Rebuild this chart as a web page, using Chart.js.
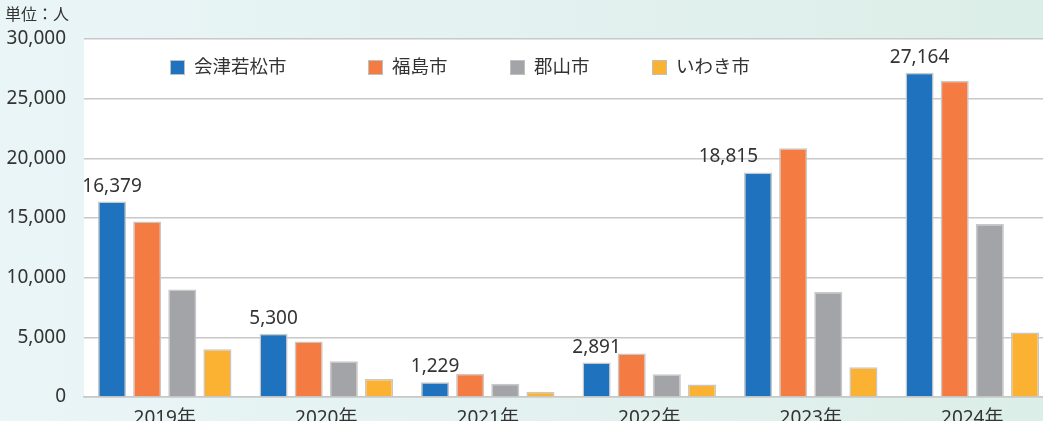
<!DOCTYPE html>
<html>
<head>
<meta charset="utf-8">
<script src="https://cdn.jsdelivr.net/npm/chart.js@4"></script>
<style>
    html, body { margin: 0; padding: 0; overflow: hidden; }
    body {
        width: 1043px; height: 421px;
        background: linear-gradient(to right, #eaf5f7, #dceee8);
    }
    #wrap { width: 1053px; height: 421px; position: relative; }
</style>
</head>
<body>
<div id="wrap"><canvas id="chart"></canvas></div>
<script>
const years = ['2019年', '2020年', '2021年', '2022年', '2023年', '2024年'];
const aizuwakamatsu = [16379, 5300, 1229, 2891, 18815, 27164];
const fukushima = [14700, 4650, 1950, 3650, 20850, 26500];
const koriyama = [9000, 3000, 1100, 1900, 8800, 14500];
const iwaki = [4000, 1500, 450, 1050, 2500, 5400];

const FONT = '"Noto Sans", "Noto Sans CJK JP", sans-serif';
const TEXT = '#333333';

function series(label, data, color) {
    return {
        label: label,
        data: data,
        backgroundColor: color,
        borderColor: '#c8c8c8',
        borderWidth: 1.5,
        categoryPercentage: 0.87,
        barPercentage: 0.8
    };
}

// white plot area, unit label, legend
const decorPlugin = {
    id: 'decor',
    beforeDraw: function (chart) {
        const ctx = chart.ctx;
        const a = chart.chartArea;
        ctx.save();
        ctx.fillStyle = '#ffffff';
        ctx.fillRect(a.left, a.top, a.right - a.left, a.bottom - a.top);
        ctx.restore();
    },
    afterDraw: function (chart) {
        const ctx = chart.ctx;
        ctx.save();
        ctx.fillStyle = TEXT;
        ctx.font = '16px ' + FONT;
        ctx.textBaseline = 'middle';
        ctx.fillText('単位：人', 5, 15);

        const legendX = [170, 368, 510, 652];
        ctx.font = '18.5px ' + FONT;
        chart.data.datasets.forEach(function (ds, i) {
            const x = legendX[i];
            ctx.fillStyle = ds.backgroundColor;
            ctx.fillRect(x, 60, 15, 15);
            ctx.strokeStyle = '#c0c0c0';
            ctx.lineWidth = 1;
            ctx.strokeRect(x + 0.5, 60.5, 14, 14);
            ctx.fillStyle = TEXT;
            ctx.fillText(ds.label, x + 24, 68);
        });
        ctx.restore();
    }
};

// value labels on the first series only
const valuePlugin = {
    id: 'values',
    afterDatasetsDraw: function (chart) {
        const ctx = chart.ctx;
        const bars = chart.getDatasetMeta(0).data;
        const next = chart.getDatasetMeta(1).data;
        ctx.save();
        ctx.font = '19px ' + FONT;
        ctx.fillStyle = TEXT;
        ctx.textBaseline = 'alphabetic';
        bars.forEach(function (bar, i) {
            const txt = aizuwakamatsu[i].toLocaleString('en-US');
            const y = bar.y - 10;
            // shift left when the neighbouring bar would cover the label
            ctx.textAlign = next[i].y < y - 2 ? 'right' : 'center';
            ctx.fillText(txt, bar.x, y);
        });
        ctx.restore();
    }
};

new Chart(document.getElementById('chart'), {
    type: 'bar',
    data: {
        labels: years,
        datasets: [
            series('会津若松市', aizuwakamatsu, '#1f72bd'),
            series('福島市', fukushima, '#f47c42'),
            series('郡山市', koriyama, '#a3a4a8'),
            series('いわき市', iwaki, '#fbb131')
        ]
    },
    options: {
        responsive: true,
        maintainAspectRatio: false,
        animation: false,
        layout: { padding: { top: 39, right: 0, left: 0, bottom: 0 } },
        plugins: {
            legend: { display: false },
            tooltip: { enabled: false }
        },
        scales: {
            x: {
                grid: { display: false },
                border: { display: true, color: '#c8c8c8', width: 1.5 },
                ticks: { color: TEXT, font: { family: FONT, size: 19 }, padding: 2 },
                afterFit: function (scale) { scale.height = 24; }
            },
            y: {
                min: 0,
                max: 30000,
                ticks: {
                    stepSize: 5000,
                    color: TEXT,
                    padding: 18,
                    font: { family: FONT, size: 19 },
                    callback: function (v) { return v.toLocaleString('en-US'); }
                },
                grid: { color: '#c8c8c8', lineWidth: 1.5, drawTicks: false },
                border: { display: false },
                afterFit: function (scale) {
                    // keep the plot flush with the bottom axis
                    scale.width = 84;
                    scale.paddingTop = 0;
                    scale.paddingBottom = 0;
                }
            }
        }
    },
    plugins: [decorPlugin, valuePlugin]
});
</script>
</body>
</html>
